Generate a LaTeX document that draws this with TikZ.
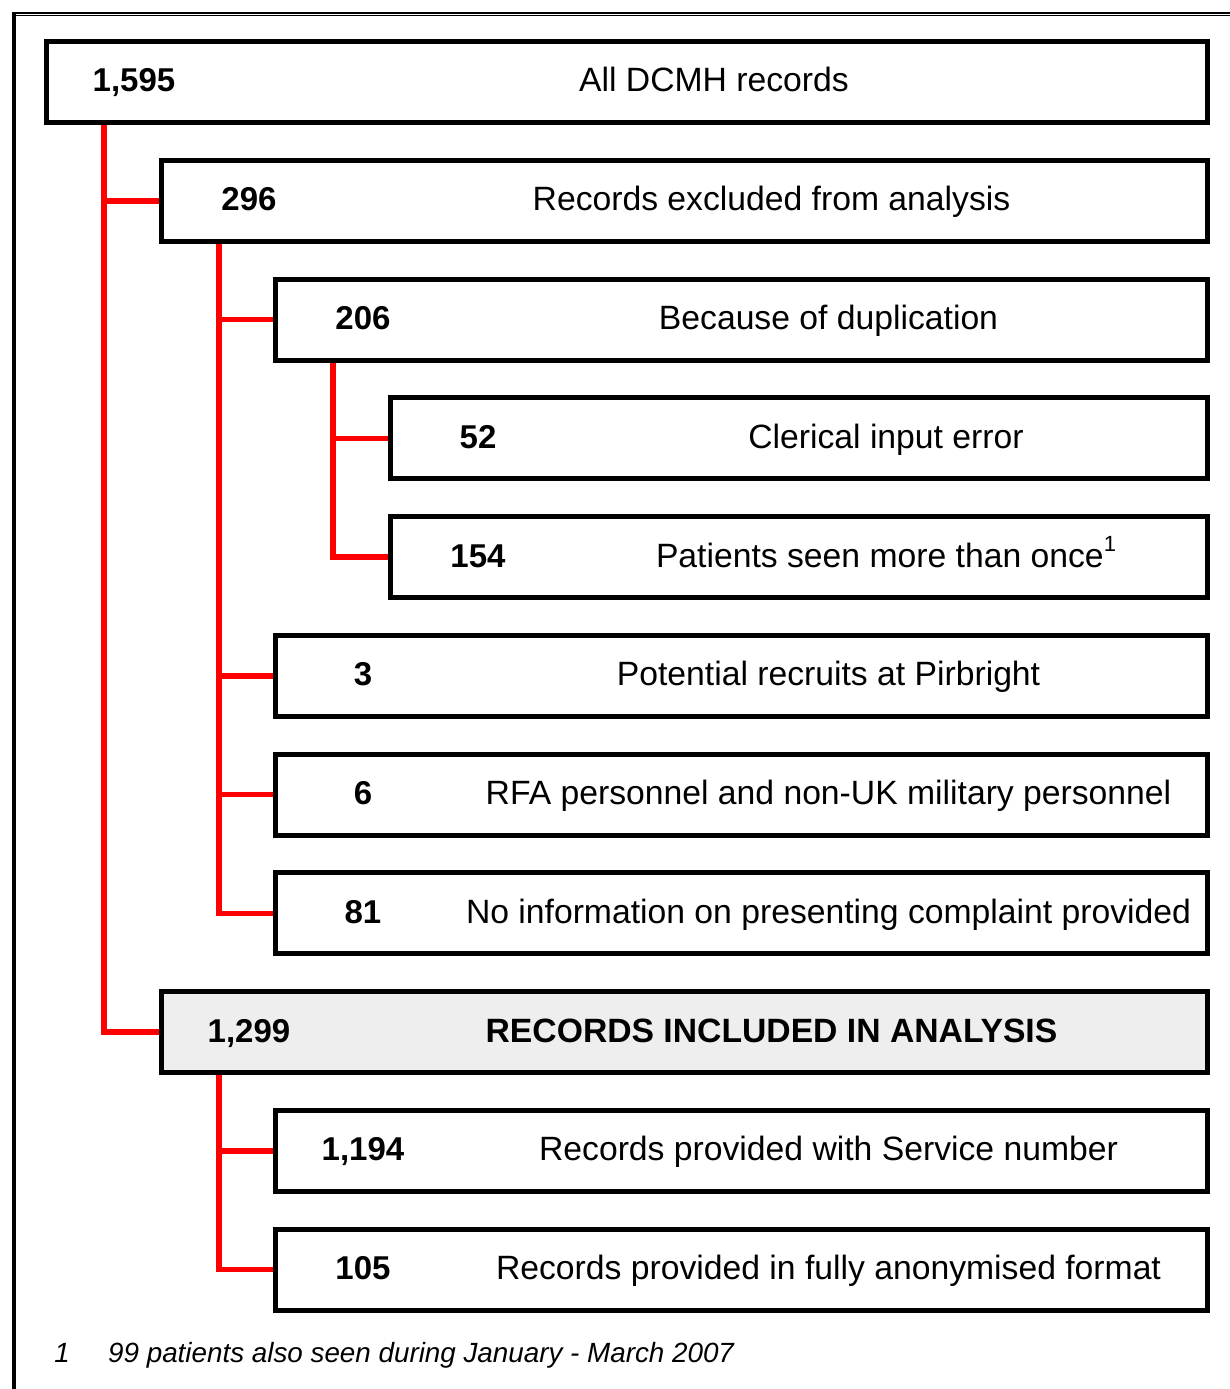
\documentclass[tikz,border=0pt]{standalone}
\usepackage{fontspec}
\setmainfont{Liberation Sans}
\usepackage{xcolor}
\usepackage{tikz}
\usetikzlibrary{positioning}
\definecolor{treered}{HTML}{FF0000}
\definecolor{shadegray}{HTML}{EEEEEE}
\newcommand{\rowsize}{\fontsize{33pt}{40pt}\selectfont}
\newcommand{\labsize}{\fontsize{33.7pt}{40pt}\selectfont}
\newcommand{\notesize}{\fontsize{27.8pt}{34pt}\selectfont}
\newcommand{\supnum}[1]{\raisebox{16pt}{\fontsize{22pt}{22pt}\selectfont #1}}
\tikzset{
  treebox/.style={
    rectangle, draw=black, line width=5pt, inner sep=0pt,
    minimum width=#1, minimum height=81pt
  },
  numtext/.style={anchor=base, font=\rowsize\bfseries, inner sep=0pt},
  labtext/.style={anchor=base, font=\labsize, inner sep=0pt},
  treeline/.style={draw=treered, line width=5.5pt},
  notetext/.style={anchor=base, font=\notesize\itshape, inner sep=0pt},
}

\begin{document}
\begin{tikzpicture}[x=1pt, y=1pt, node distance=32.75pt]
  \useasboundingbox (0,0) rectangle (1230,-1389);
  % page frame
  \draw[line width=1.4pt] (12,-13) -- (1230,-13);
  \draw[line width=1.6pt] (14,-15.5) -- (1230,-15.5);
  \draw[line width=4pt] (14,-12) -- (14,-1389);
  % boxes
  \node[treebox=1161pt, anchor=north east] (all) at (1210,-39) {};
  \node[treebox=1046pt, below=of all.south east, anchor=north east] (excl) {};
  \node[treebox=932pt, below=of excl.south east, anchor=north east] (dup) {};
  \node[treebox=817pt, below=of dup.south east, anchor=north east] (cler) {};
  \node[treebox=817pt, below=of cler.south east, anchor=north east] (seen) {};
  \node[treebox=932pt, below=of seen.south east, anchor=north east] (pirb) {};
  \node[treebox=932pt, below=of pirb.south east, anchor=north east] (rfa) {};
  \node[treebox=932pt, below=of rfa.south east, anchor=north east] (noinfo) {};
  \node[treebox=1046pt, fill=shadegray, below=of noinfo.south east, anchor=north east] (incl) {};
  \node[treebox=932pt, below=of incl.south east, anchor=north east] (svc) {};
  \node[treebox=932pt, below=of svc.south east, anchor=north east] (anon) {};
  % numbers and labels
  \foreach \n/\num/\lab in {
      all/{1,595}/All DCMH records,
      excl/296/Records excluded from analysis,
      dup/206/Because of duplication,
      cler/52/Clerical input error,
      seen/154/Patients seen more than once\supnum{1},
      pirb/3/Potential recruits at Pirbright,
      rfa/6/RFA personnel and non-UK military personnel,
      noinfo/81/No information on presenting complaint provided,
      incl/{1,299}/\bfseries RECORDS INCLUDED IN ANALYSIS,
      svc/{1,194}/Records provided with Service number,
      anon/105/Records provided in fully anonymised format} {
    \node[numtext] (\n-num) at ([xshift=90pt, yshift=-10pt]\n.west) {\num};
    \node[labtext] (\n-lab) at ([xshift=87pt, yshift=-10pt]\n.center) {\lab};
  }
  % tree connectors
  \foreach \a/\b in {all/excl, all/incl, excl/dup, excl/pirb, excl/rfa,
                     excl/noinfo, dup/cler, dup/seen, incl/svc, incl/anon}
    \draw[treeline] ([xshift=60pt]\a.south west) |- (\b.west);
  % footnote
  \node[notetext] (fnmark) at (62,-1362) {1};
  \node[notetext, anchor=base west] (fntext) at (108,-1362) {99 patients also seen during January - March 2007};
\end{tikzpicture}
\end{document}
